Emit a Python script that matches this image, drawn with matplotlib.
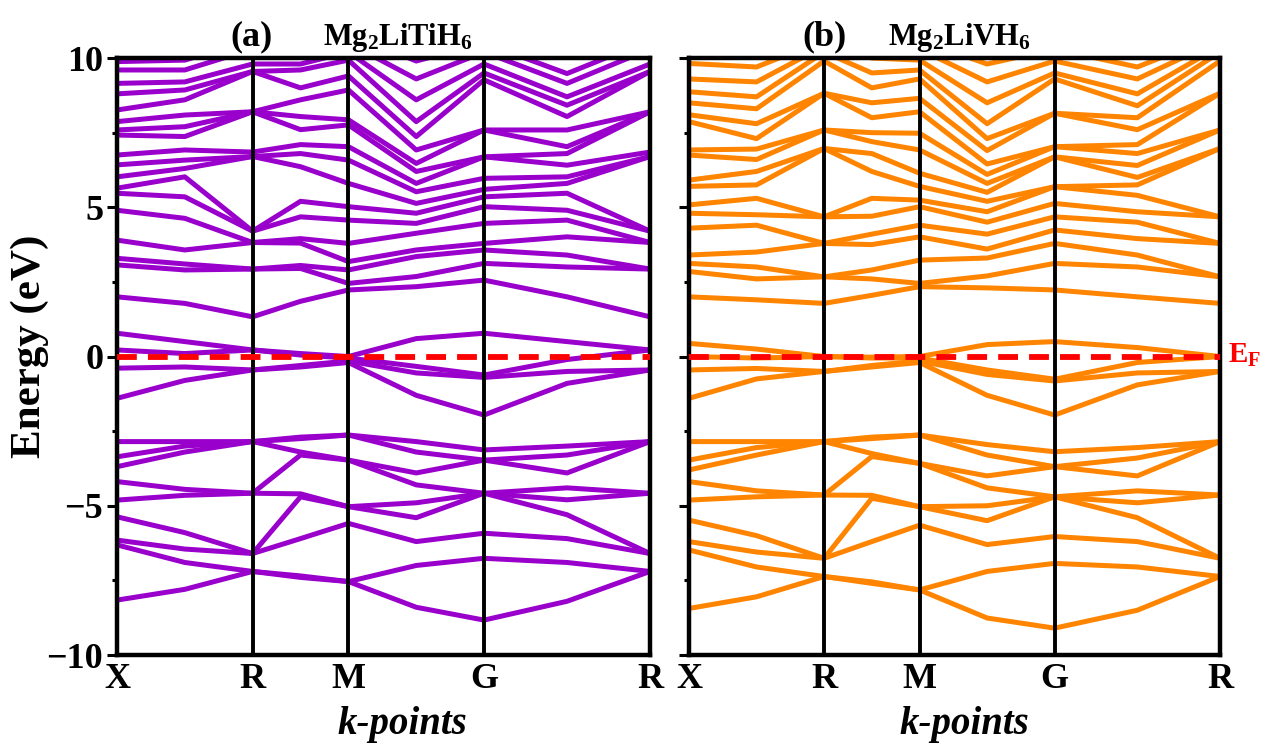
import numpy as np
import matplotlib.pyplot as plt

plt.rcParams['font.family'] = ['Liberation Serif', 'DejaVu Serif']
plt.rcParams['font.weight'] = 'bold'
plt.rcParams['mathtext.default'] = 'regular'

# k-path of the simple cubic cell: X - R - M - G - R
k_nodes = [0.0, 0.7071, 1.2071, 1.9142, 2.7802]
k_labels = ['X', 'R', 'M', 'G', 'R']
# energies were read at every node and half way along each segment
k_samples = [0.0, 0.3536, 0.7071, 0.9571, 1.2071, 1.5607, 1.9142, 2.3472, 2.7802]

# ---- (a) Mg2LiTiH6, energies in eV, one row per k sample ----
ti_valence = np.array([
    [-8.16, -6.31, -6.15, -5.37, -4.81, -4.19, -3.69, -3.36, -2.85],
    [-7.80, -6.90, -6.45, -5.90, -4.65, -4.45, -3.20, -3.00, -2.85],
    [-7.20, -7.20, -6.60, -6.60, -4.58, -4.58, -2.85, -2.85, -2.85],
    [-7.40, -7.35, -6.10, -4.70, -4.60, -3.30, -3.20, -2.75, -2.70],
    [-7.54, -7.54, -5.59, -5.03, -5.03, -3.47, -3.47, -2.63, -2.63],
    [-8.40, -7.00, -6.20, -5.40, -4.90, -4.30, -3.90, -3.20, -2.85],
    [-8.83, -6.76, -5.92, -4.58, -4.58, -4.58, -3.47, -3.47, -3.13],
    [-8.20, -6.90, -6.10, -5.30, -4.80, -4.40, -3.90, -3.30, -3.00],
    [-7.20, -7.20, -6.60, -6.60, -4.58, -4.58, -2.85, -2.85, -2.85],
])
ti_fermi = np.array([
    [-1.40, -0.39, 0.22, 0.78],
    [-0.80, -0.35, 0.10, 0.50],
    [-0.45, -0.45, 0.22, 0.22],
    [-0.35, -0.30, 0.05, 0.10],
    [-0.20, -0.15, -0.05, 0.00],
    [-1.30, -0.55, -0.33, 0.60],
    [-1.96, -0.70, -0.62, 0.78],
    [-0.90, -0.50, -0.10, 0.50],
    [-0.45, -0.45, 0.22, 0.22],
])
ti_conduction = np.array([
    [2.00, 3.07, 3.29, 3.90, 4.90, 5.47, 5.64, 6.02, 6.42, 6.75, 7.42, 7.59, 7.87, 8.26, 8.80, 9.15, 9.60, 9.88],
    [1.78, 2.90, 3.10, 3.57, 4.63, 5.35, 6.02, 6.30, 6.58, 6.92, 7.37, 7.70, 8.09, 8.60, 8.93, 9.20, 9.60, 9.93],
    [1.33, 2.93, 2.93, 3.82, 3.82, 4.20, 4.20, 6.70, 6.70, 6.85, 8.20, 8.20, 8.20, 9.55, 9.55, 9.80, 10.3, 10.6],
    [1.85, 2.95, 3.05, 3.80, 3.95, 4.68, 5.20, 6.36, 6.80, 7.10, 7.60, 8.04, 8.60, 9.00, 9.60, 9.80, 10.2, 10.5],
    [2.23, 2.45, 2.90, 3.18, 3.79, 4.57, 5.02, 5.80, 6.58, 7.03, 7.76, 7.93, 8.93, 9.40, 9.93, 10.2, 10.5, 10.8],
    [2.34, 2.68, 3.35, 3.57, 4.13, 4.46, 4.80, 5.13, 5.52, 5.80, 6.20, 6.47, 6.92, 7.37, 7.87, 8.60, 9.30, 9.90],
    [2.56, 3.12, 3.57, 3.79, 4.46, 5.02, 5.35, 5.60, 5.97, 6.69, 6.69, 7.59, 7.59, 9.27, 9.50, 9.80, 10.2, 10.5],
    [2.00, 3.00, 3.40, 4.01, 4.57, 4.90, 5.47, 5.80, 6.02, 6.41, 6.80, 7.03, 7.59, 8.04, 8.42, 8.70, 9.15, 9.48],
    [1.33, 2.93, 2.93, 3.82, 3.82, 4.20, 4.20, 6.70, 6.70, 6.85, 8.20, 8.20, 8.20, 9.55, 9.55, 9.80, 10.3, 10.6],
])

# ---- (b) Mg2LiVH6 ----
v_valence = np.array([
    [-8.44, -6.48, -6.20, -5.48, -4.81, -4.19, -3.80, -3.47, -2.85],
    [-8.05, -7.05, -6.55, -6.00, -4.70, -4.50, -3.30, -3.05, -2.85],
    [-7.37, -7.37, -6.76, -6.76, -4.64, -4.64, -2.85, -2.85, -2.85],
    [-7.60, -7.55, -6.20, -4.75, -4.65, -3.35, -3.25, -2.75, -2.70],
    [-7.82, -7.82, -5.65, -5.03, -5.03, -3.58, -3.58, -2.63, -2.63],
    [-8.76, -7.20, -6.30, -5.50, -5.00, -4.40, -4.00, -3.30, -2.95],
    [-9.10, -6.93, -6.03, -4.70, -4.70, -4.70, -3.69, -3.69, -3.19],
    [-8.50, -7.05, -6.20, -5.40, -4.90, -4.50, -4.00, -3.40, -3.05],
    [-7.37, -7.37, -6.76, -6.76, -4.64, -4.64, -2.85, -2.85, -2.85],
])
v_fermi = np.array([
    [-1.40, -0.45, 0.00, 0.44],
    [-0.75, -0.40, -0.05, 0.25],
    [-0.50, -0.50, 0.00, 0.00],
    [-0.35, -0.30, -0.05, -0.02],
    [-0.20, -0.15, -0.05, 0.00],
    [-1.30, -0.60, -0.45, 0.40],
    [-1.96, -0.82, -0.76, 0.50],
    [-0.95, -0.55, -0.20, 0.30],
    [-0.50, -0.50, 0.00, 0.00],
])
v_conduction = np.array([
    [2.00, 2.85, 3.12, 3.40, 4.30, 4.80, 5.08, 5.70, 5.91, 6.75, 6.92, 7.87, 8.10, 8.50, 8.87, 9.30, 9.82, 10.2],
    [1.90, 2.60, 3.00, 3.50, 4.40, 4.75, 5.30, 5.75, 6.20, 6.60, 6.95, 7.30, 7.80, 8.30, 8.70, 9.20, 9.70, 10.1],
    [1.78, 2.67, 2.67, 3.79, 3.79, 4.68, 4.68, 6.97, 6.97, 7.59, 7.59, 8.82, 8.82, 9.90, 10.2, 10.4, 10.6, 10.8],
    [2.05, 2.60, 2.90, 3.75, 4.10, 4.70, 5.30, 6.20, 6.80, 7.20, 7.50, 8.00, 8.50, 9.00, 9.50, 10.0, 10.3, 10.6],
    [2.34, 2.45, 3.23, 4.01, 4.40, 5.02, 5.24, 5.70, 6.14, 6.92, 7.48, 8.20, 8.65, 9.30, 9.60, 9.93, 10.3, 10.6],
    [2.30, 2.70, 3.30, 3.60, 4.10, 4.50, 4.85, 5.20, 5.50, 5.80, 6.10, 6.45, 6.90, 7.30, 7.80, 8.50, 9.20, 9.80],
    [2.23, 3.12, 3.79, 4.24, 4.68, 5.13, 5.69, 5.69, 6.69, 6.69, 7.03, 7.03, 8.15, 8.15, 9.30, 9.50, 9.90, 10.3],
    [2.00, 3.00, 3.40, 3.95, 4.50, 4.85, 5.40, 5.75, 6.00, 6.40, 6.80, 7.10, 7.60, 8.00, 8.40, 8.80, 9.30, 9.70],
    [1.78, 2.67, 2.67, 3.79, 3.79, 4.68, 4.68, 6.97, 6.97, 7.59, 7.59, 8.82, 8.82, 9.90, 10.2, 10.4, 10.6, 10.8],
])

fig = plt.figure(figsize=(12.61, 7.44), dpi=100)
ax1 = fig.add_axes([0.0928, 0.1196, 0.4227, 0.8024])
ax2 = fig.add_axes([0.5464, 0.1196, 0.4211, 0.8024])

panels = [
    (ax1, [ti_valence, ti_fermi, ti_conduction], '#9900cc'),
    (ax2, [v_valence, v_fermi, v_conduction], '#ff8400'),
]

for ax, groups, col in panels:
    for bands in groups:
        ax.plot(k_samples, bands, color=col, lw=3.6, solid_joinstyle='round')
    for k in k_nodes[1:-1]:
        ax.axvline(k, color='black', lw=2.8, zorder=3)
    ax.axhline(0, color='#ff0000', lw=4.2, dashes=(3.4, 1.9), zorder=4)
    ax.set_xlim(k_nodes[0], k_nodes[-1])
    ax.set_ylim(-10, 10)
    ax.set_xticks(k_nodes)
    ax.set_xticklabels(k_labels, fontsize=26, fontweight='bold')
    ax.tick_params(axis='x', length=0, pad=6)
    ax.set_yticks([-10, -5, 0, 5, 10])
    ax.set_yticks([-7.5, -2.5, 2.5, 7.5], minor=True)
    ax.tick_params(axis='y', which='major', direction='out', length=7, width=2.2,
                   labelsize=26, pad=3)
    ax.tick_params(axis='y', which='minor', direction='out', length=3.5, width=2.2)
    for s in ax.spines.values():
        s.set_linewidth(3.2)
    for lab in ax.get_yticklabels():
        lab.set_fontweight('bold')

ax2.set_yticklabels([])

fig.text(0.024, 0.534, 'Energy (eV)', rotation=90, fontsize=31, fontweight='bold',
         ha='center', va='center')
fig.text(0.319, 0.026, 'k-points', fontsize=28, fontweight='bold', style='italic',
         ha='center', va='center')
fig.text(0.765, 0.026, 'k-points', fontsize=28, fontweight='bold', style='italic',
         ha='center', va='center')

fig.text(0.1998, 0.950, '(a)', fontsize=26, fontweight='bold', ha='center', va='center')
fig.text(0.315, 0.950, 'Mg$_2$LiTiH$_6$', fontsize=22, fontweight='bold',
         ha='center', va='center')
fig.text(0.654, 0.950, '(b)', fontsize=26, fontweight='bold', ha='center', va='center')
fig.text(0.761, 0.950, 'Mg$_2$LiVH$_6$', fontsize=22, fontweight='bold',
         ha='center', va='center')

fig.text(0.9735, 0.522, 'E$_F$', fontsize=21, fontweight='bold', color='#ff0000',
         ha='left', va='center')

fig.savefig('out.png', dpi=100)
